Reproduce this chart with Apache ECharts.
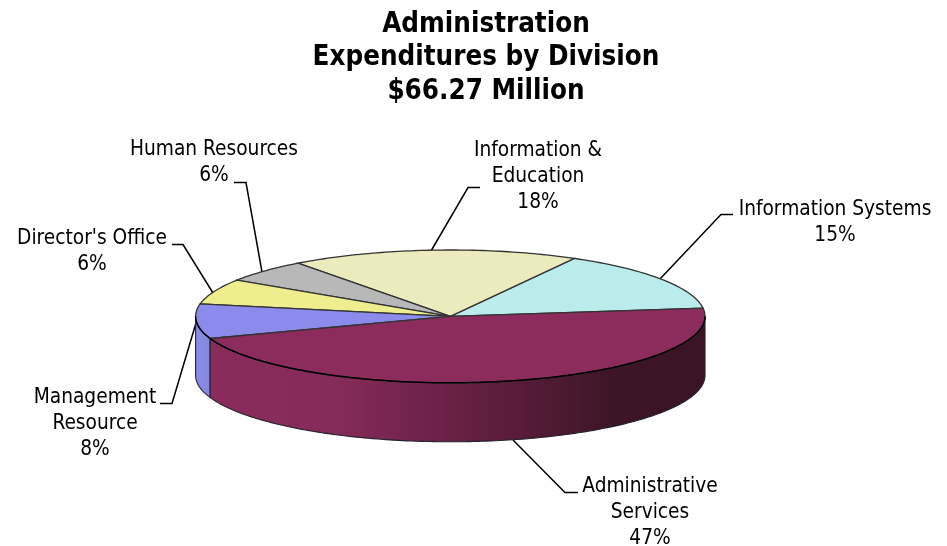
<!DOCTYPE html>
<html>
<head>
<meta charset="utf-8">
<style>html,body{margin:0;padding:0;background:#fff}#c{width:947px;height:546px}</style>
<script src="https://cdn.jsdelivr.net/npm/echarts@6/dist/echarts.min.js"></script>
</head>
<body>
<div id="c"></div>
<script>
// Data
var titleLines = ['Administration', 'Expenditures by Division', '$66.27 Million'];
var categories = ['Information Systems', 'Information &\nEducation', 'Human Resources', "Director's Office", 'Management\nResource', 'Administrative\nServices'];
var values = [14.9, 18.3, 5.6, 6.2, 8.4, 46.6];

// Styles and layout
var topColors = ['#BAECEC', '#ECEBBD', '#B8B8B8', '#EEEE8F', '#8B8BEB', '#8B2C5C'];
var FONT = '"DejaVu Sans Condensed", "DejaVu Sans", sans-serif';
var labelAnchors = [[835, 197], [538, 138], [214, 137], [92, 226], [95, 385], [650, 474]];
var leaders = [
  [[733, 214.5], [721, 214.5], [660, 279]],
  [[480, 187.5], [468, 187.5], [431, 251]],
  [[234, 182.5], [246, 182.5], [262, 272]],
  [[172, 244.5], [183, 244.5], [213, 293]],
  [[160, 403.5], [172, 403.5], [196, 323]],
  [[578, 492.5], [565, 492.5], [513, 440]]
];
var pie = { cx: 450.3, cy: 316.4, rx: 254.7, ry: 66.4, depth: 59, start: 7.2 };
var wallFills = [
  null, null, null, null,
  { type: 'linear', x: 195, y: 0, x2: 215, y2: 0, global: true,
    colorStops: [{ offset: 0, color: '#8A8CE6' }, { offset: 1, color: '#8688DC' }] },
  { type: 'linear', x: 195, y: 0, x2: 705, y2: 0, global: true,
    colorStops: [
      { offset: 0, color: '#8B2C5C' }, { offset: 0.28, color: '#852B58' },
      { offset: 0.47, color: '#6C2347' }, { offset: 0.64, color: '#561C39' },
      { offset: 0.83, color: '#3C1526' }, { offset: 1, color: '#3A1425' }
    ] }
];

var total = values.reduce(function (a, b) { return a + b; }, 0);
function angleAt(i) {
  var s = 0;
  for (var k = 0; k < i; k++) s += values[k];
  return pie.start + s / total * 360;
}
function pt(deg, dy) {
  var t = deg * Math.PI / 180;
  return [pie.cx + pie.rx * Math.cos(t), pie.cy - pie.ry * Math.sin(t) + (dy || 0)];
}
function arc(a0, a1, dy) {
  var out = [], n = Math.max(2, Math.ceil(Math.abs(a1 - a0)));
  for (var i = 0; i <= n; i++) out.push(pt(a0 + (a1 - a0) * i / n, dy));
  return out;
}

function renderItem(params, api) {
  var i = params.dataIndex;
  var a0 = angleAt(i), a1 = a0 + api.value(0) / total * 360;
  var children = [];
  // side wall: only the front half of the disc shows
  var w0 = Math.max(a0, 180), w1 = Math.min(a1, 360);
  if (w1 > w0) {
    var upper = arc(w0, w1, 0), lower = arc(w1, w0, pie.depth);
    children.push({
      type: 'polygon',
      shape: { points: upper.concat(lower) },
      style: { fill: wallFills[i], stroke: '#22222e', lineWidth: 1.1 }
    });
  }
  // top face
  children.push({
    type: 'polygon',
    shape: { points: [[pie.cx, pie.cy]].concat(arc(a0, a1, 0)) },
    style: { fill: topColors[i], stroke: '#333', lineWidth: 1.3 }
  });
  // darker front rim of the top face
  if (w1 > w0) {
    children.push({
      type: 'polyline',
      shape: { points: arc(w0, w1, 0) },
      style: { fill: null, stroke: '#000', lineWidth: 1.5 }
    });
  }
  return { type: 'group', children: children };
}

function renderLabel(params, api) {
  var i = params.dataIndex;
  var a = labelAnchors[i];
  return {
    type: 'group',
    children: [
      { type: 'polyline', shape: { points: leaders[i] },
        style: { fill: null, stroke: '#000', lineWidth: 1.5 } },
      { type: 'text', x: a[0], y: a[1],
        style: {
          text: categories[i] + '\n' + Math.round(api.value(0)) + '%',
          font: '20.7px ' + FONT, fill: '#000',
          align: 'center', verticalAlign: 'top', lineHeight: 26
        } }
    ]
  };
}

var chart = echarts.init(document.getElementById('c'), null, { renderer: 'canvas', width: 947, height: 546 });
chart.setOption({
  backgroundColor: '#fff',
  animation: false,
  title: {
    text: titleLines.join('\n'),
    left: 481, top: 3, textAlign: 'center',
    textStyle: { fontFamily: FONT, fontWeight: 'bold', fontSize: 27.5, lineHeight: 33.5, color: '#000' }
  },
  series: [
    { type: 'custom', coordinateSystem: 'none', silent: true, z: 1, renderItem: renderLabel,
      data: values.map(function (v, i) { return { name: categories[i], value: [v] }; }) },
    { type: 'custom', coordinateSystem: 'none', silent: true, z: 2, renderItem: renderItem,
      data: values.map(function (v, i) { return { name: categories[i], value: [v] }; }) }
  ]
});
</script>
</body>
</html>
